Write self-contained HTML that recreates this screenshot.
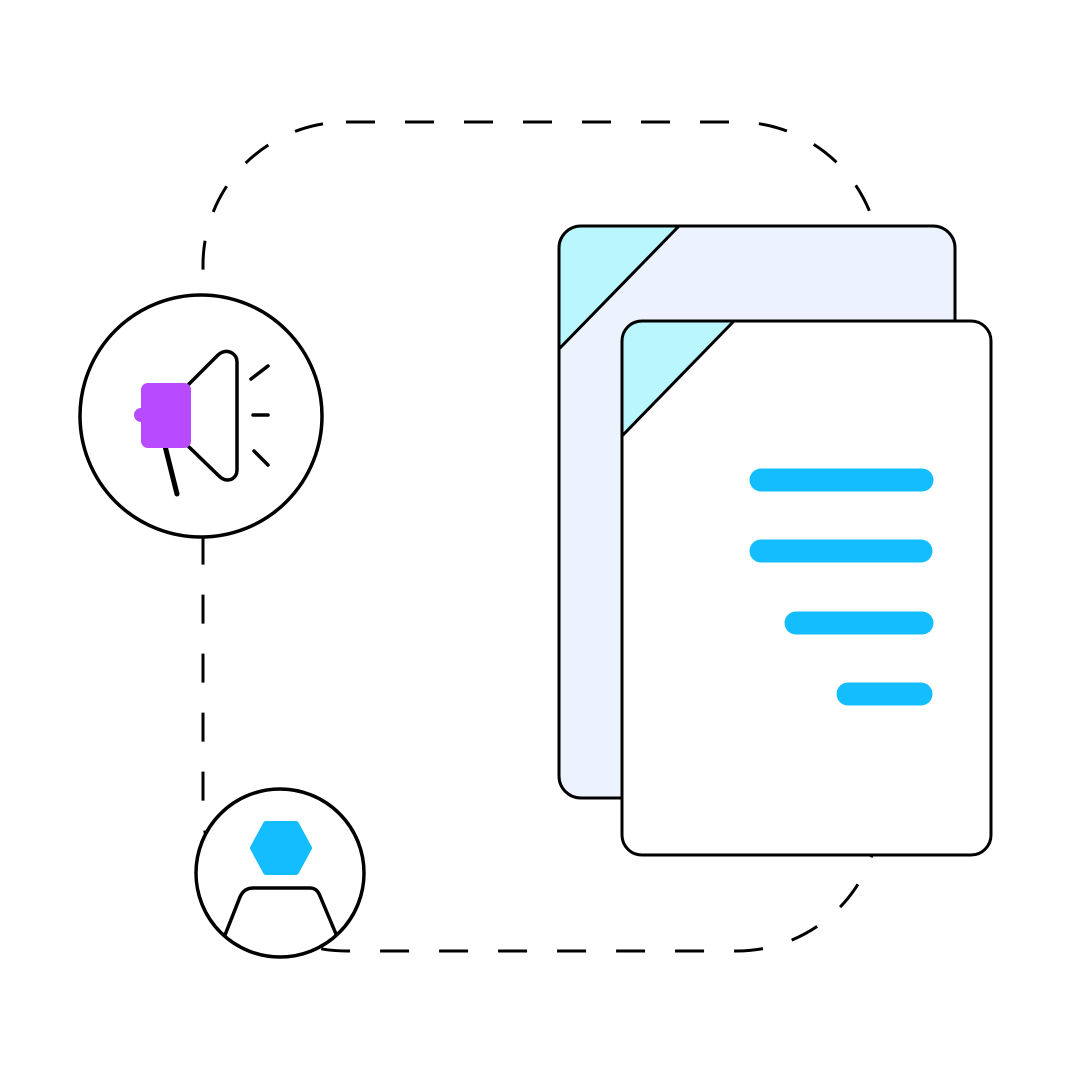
<!DOCTYPE html>
<html><head><style>html,body{margin:0;padding:0;background:#fff}</style></head>
<body>
<svg width="1080" height="1080" viewBox="0 0 1080 1080" xmlns="http://www.w3.org/2000/svg">
<rect x="0" y="0" width="1080" height="1080" fill="#fff"/>
<rect x="203" y="122" width="677" height="829" rx="143" fill="none" stroke="#000" stroke-width="3" stroke-dasharray="29 30"/>
<defs>
<clipPath id="cb"><rect x="559" y="226" width="396" height="572" rx="22"/></clipPath>
<clipPath id="cf"><rect x="622" y="321" width="369" height="534" rx="20"/></clipPath>
</defs>
<rect x="559" y="226" width="396" height="572" rx="22" fill="#ECF3FE"/>
<polygon points="559,226 679,226 559,349" fill="#B9F6FD" clip-path="url(#cb)"/>
<line x1="679" y1="226" x2="559" y2="349" stroke="#000" stroke-width="3"/>
<rect x="559" y="226" width="396" height="572" rx="22" fill="none" stroke="#000" stroke-width="3"/>
<rect x="622" y="321" width="369" height="534" rx="20" fill="#fff"/>
<polygon points="622,321 734,321 622,436" fill="#B9F6FD" clip-path="url(#cf)"/>
<line x1="734" y1="321" x2="622" y2="436" stroke="#000" stroke-width="3"/>
<rect x="622" y="321" width="369" height="534" rx="20" fill="none" stroke="#000" stroke-width="3"/>
<g stroke="#14BDFD" stroke-width="23" stroke-linecap="round">
<line x1="761" y1="480" x2="922" y2="480"/>
<line x1="761" y1="551" x2="921" y2="551"/>
<line x1="796" y1="623" x2="922" y2="623"/>
<line x1="848" y1="694" x2="921" y2="694"/>
</g>
<circle cx="201" cy="416" r="121" fill="#fff" stroke="#000" stroke-width="3.5"/>
<path d="M188,385 L218,355 Q225,349 232,353 Q237,356 237,362 L237,470 Q237,476 232,479 Q225,482 219,476 L188,446" fill="none" stroke="#000" stroke-width="3.5" stroke-linejoin="round"/>
<line x1="165" y1="446" x2="177" y2="494" stroke="#000" stroke-width="5" stroke-linecap="round"/>
<rect x="141" y="383" width="50" height="65" rx="7" fill="#B84AFF"/>
<circle cx="141" cy="415" r="7" fill="#B84AFF"/>
<g stroke="#000" stroke-width="3.5" stroke-linecap="round">
<line x1="251" y1="379" x2="268" y2="366"/>
<line x1="253" y1="415" x2="268" y2="415"/>
<line x1="254" y1="451" x2="268" y2="465"/>
</g>
<circle cx="280" cy="873" r="84" fill="#fff" stroke="#000" stroke-width="3.5"/>
<polygon points="253,848 266,824 296,824 309,848 296,872 266,872" fill="#14BDFD" stroke="#14BDFD" stroke-width="6" stroke-linejoin="round"/>
<path d="M225,935 L240,897 Q244,888 253,888 L310,888 Q317,888 320,896 L336,934" fill="none" stroke="#000" stroke-width="3.5" stroke-linejoin="round"/>
</svg>
</body></html>
